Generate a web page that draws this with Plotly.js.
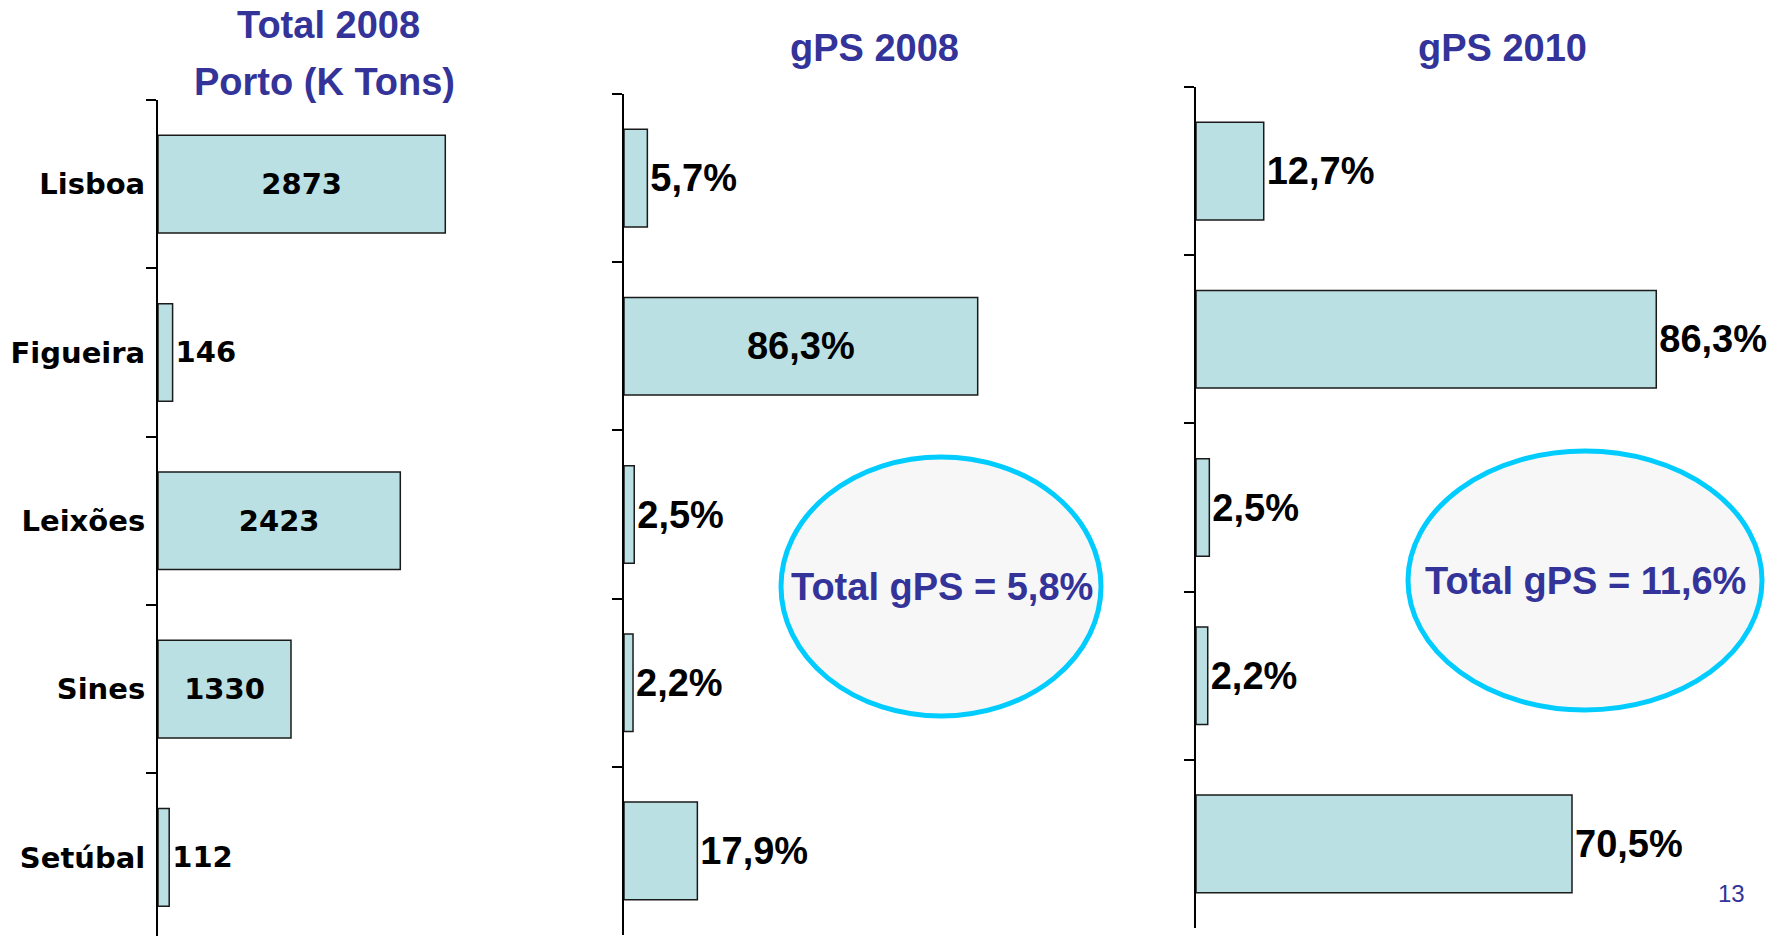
<!DOCTYPE html>
<html>
<head>
<meta charset="utf-8">
<script src="https://cdn.plot.ly/plotly-3.0.1.min.js"></script>
<style>html,body{margin:0;padding:0;background:#fff;}#chart{width:1780px;height:936px;}</style>
</head>
<body>
<div id="chart"></div>
<script>
// ---- data ----
const ports = ['Lisboa', 'Figueira', 'Leixões', 'Sines', 'Setúbal'];
const total2008 = [2873, 146, 2423, 1330, 112];          // K Tons
const gps2008 = [5.7, 86.3, 2.5, 2.2, 17.9];             // %
const gps2010 = [12.7, 86.3, 2.5, 2.2, 70.5];            // %
const totalGps2008 = 5.8;
const totalGps2010 = 11.6;
const panelTitles = [['Total 2008', 'Porto (K Tons)'], ['gPS 2008'], ['gPS 2010']];
const pageNumber = '13';

// ---- styling ----
const BAR = '#BBE0E3';
const EDGE = '#1a1a1a';
const NAVY = '#333399';
const ARIAL = 'Liberation Sans, Arial, sans-serif';
const GEO = 'DejaVu Sans, Lato, sans-serif';
const W = 1780, H = 936;
const pct = v => v.toFixed(1).replace('.', ',') + '%';

function barTrace(vals, texts, positions, xa, ya, font) {
  const f = {family: font, size: font === GEO ? 29 : 38, color: '#000', weight: 'bold'};
  return {
    type: 'bar', orientation: 'h',
    y: ports, x: vals,
    xaxis: xa, yaxis: ya,
    marker: {color: BAR, line: {color: EDGE, width: 1.5}},
    text: texts, textposition: positions, textangle: 0,
    insidetextanchor: 'middle', constraintext: 'none', cliponaxis: false,
    textfont: f, insidetextfont: f, outsidetextfont: f,
    hoverinfo: 'skip', showlegend: false
  };
}

const traces = [
  barTrace(total2008, total2008.map(String), total2008.map(v => v > 1000 ? 'inside' : 'outside'), 'x', 'y', GEO),
  barTrace(gps2008, gps2008.map(pct), gps2008.map(v => v > 50 ? 'inside' : 'outside'), 'x2', 'y2', ARIAL),
  barTrace(gps2010, gps2010.map(pct), gps2010.map(() => 'outside'), 'x3', 'y3', ARIAL)
];

const px = v => v / W, py = v => 1 - v / H;

function yAxis(domain, range, anchor, labels) {
  return {
    type: 'category', domain: domain, range: range, anchor: anchor,
    showline: true, linecolor: '#000', linewidth: 2,
    ticks: 'outside', tickson: 'boundaries', ticklen: 10, tickwidth: 2, tickcolor: '#000',
    ticklabelstandoff: 5,
    showgrid: false, zeroline: false, fixedrange: true,
    showticklabels: labels,
    tickfont: {family: GEO, size: 29, color: '#000', weight: 'bold'}
  };
}
function xAxis(x0, width, range, anchor) {
  return {domain: [px(x0), px(x0 + width)], range: range, anchor: anchor, visible: false, fixedrange: true};
}

const layout = {
  width: W, height: H,
  margin: {l: 0, r: 0, t: 0, b: 0},
  paper_bgcolor: '#fff', plot_bgcolor: 'rgba(0,0,0,0)',
  bargap: 0.42,
  xaxis: xAxis(158, 420, [0, 4200], 'y'),
  yaxis: yAxis([0, py(100)], [4.467, -0.5], 'x', true),
  xaxis2: xAxis(624, 500, [0, 122], 'y2'),
  yaxis2: yAxis([1 / H, py(94)], [4.5, -0.5], 'x2', false),
  xaxis3: xAxis(1196, 560, [0, 105], 'y3'),
  yaxis3: yAxis([8 / H, py(87)], [4.5, -0.5], 'x3', false),
  shapes: [
    {type: 'circle', xref: 'paper', yref: 'paper', x0: px(781), x1: px(1101), y0: py(716), y1: py(457),
     line: {color: '#00CCFF', width: 5}, fillcolor: '#F7F7F7', layer: 'above'},
    {type: 'circle', xref: 'paper', yref: 'paper', x0: px(1408), x1: px(1762), y0: py(710), y1: py(451),
     line: {color: '#00CCFF', width: 5}, fillcolor: '#F7F7F7', layer: 'above'}
  ],
  annotations: [
    {text: '<b>' + panelTitles[0][0] + '</b>', x: px(328), y: py(25)},
    {text: '<b>' + panelTitles[0][1] + '</b>', x: px(324), y: py(82)},
    {text: '<b>' + panelTitles[1][0] + '</b>', x: px(874), y: py(48)},
    {text: '<b>' + panelTitles[2][0] + '</b>', x: px(1502), y: py(48)},
    {text: '<b>Total gPS = ' + pct(totalGps2008) + '</b>', x: px(942), y: py(587)},
    {text: '<b>Total gPS = ' + pct(totalGps2010) + '</b>', x: px(1585), y: py(581)},
    {text: pageNumber, x: px(1731), y: py(893), size: 24}
  ].map(a => ({
    text: a.text, x: a.x, y: a.y, xref: 'paper', yref: 'paper',
    xanchor: 'center', yanchor: 'middle', showarrow: false,
    font: {family: ARIAL, size: a.size || 38, color: NAVY}
  }))
};

Plotly.newPlot('chart', traces, layout, {displayModeBar: false, staticPlot: true});
</script>
</body>
</html>
